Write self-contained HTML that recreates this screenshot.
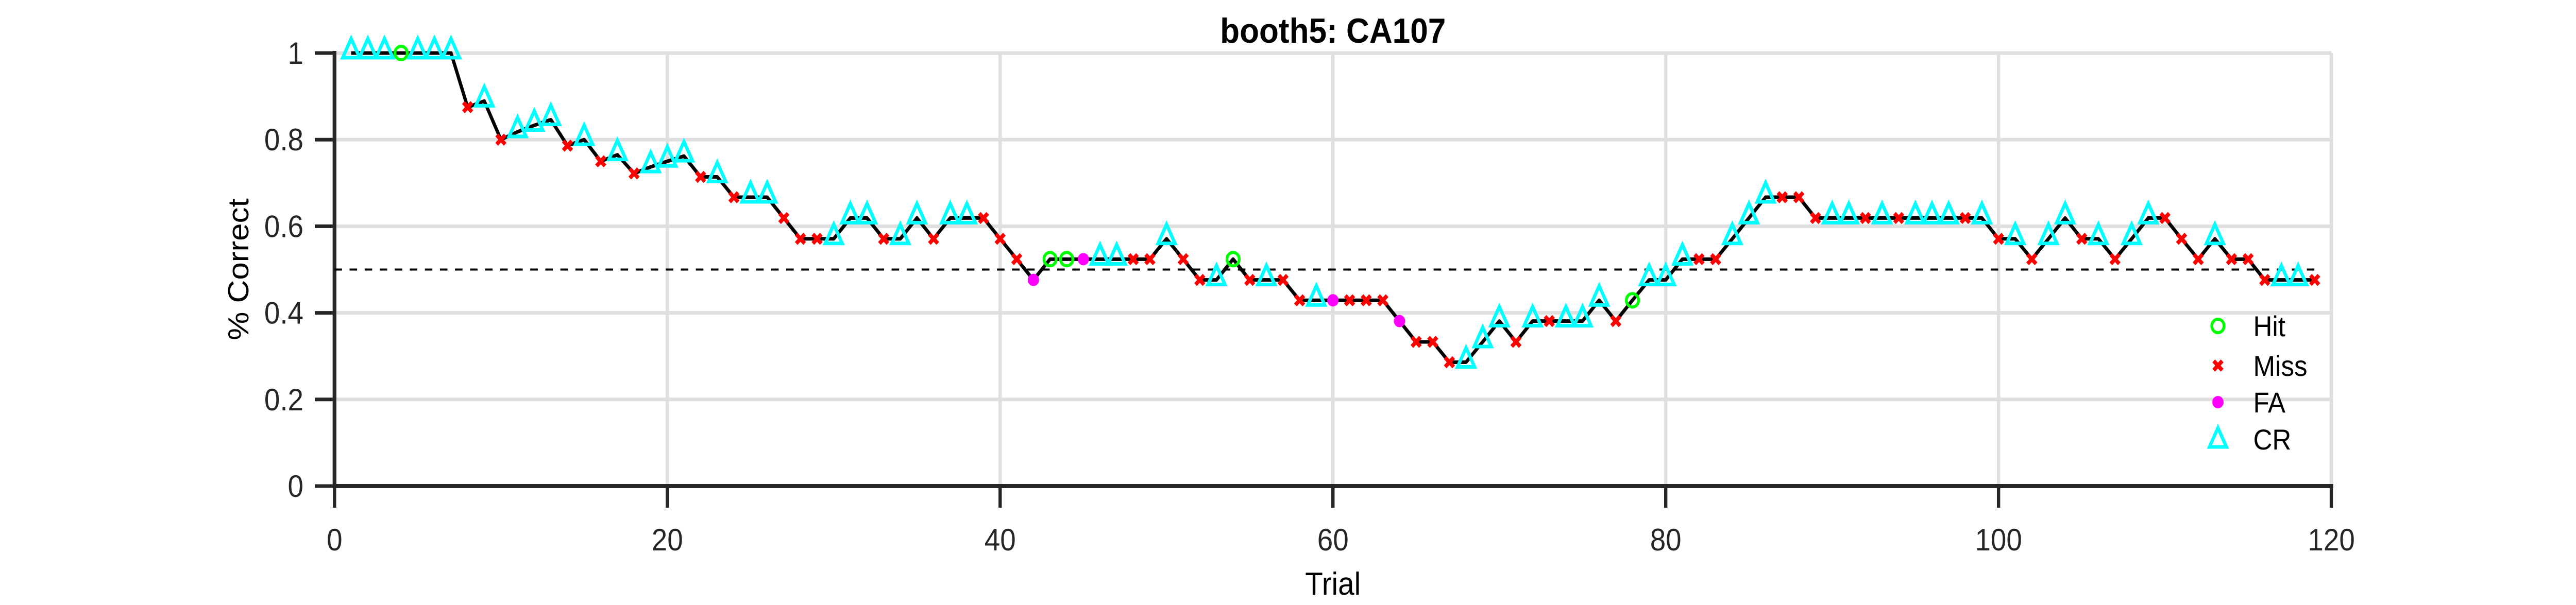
<!DOCTYPE html>
<html><head><meta charset="utf-8"><style>
html,body{margin:0;padding:0;background:#fff;width:100vw;height:100vh;overflow:hidden;}
svg{display:block;width:100vw;height:100vh;font-family:"Liberation Sans",Arial,sans-serif;}
</style></head><body>
<svg id="chart" viewBox="0 0 5475 1175" preserveAspectRatio="none" xmlns="http://www.w3.org/2000/svg">
<rect width="5475" height="1175" fill="#fff"/>
<g id="grid"></g>
<g id="axes"></g>
<g id="series"></g>
<g id="markers"></g>
<text x="2833" y="83" font-size="68" font-weight="bold" text-anchor="middle">booth5: CA107</text>
<text x="2833" y="1155" font-size="62" text-anchor="middle">Trial</text>
<text transform="translate(528,523) rotate(-90)" font-size="62" text-anchor="middle">% Correct</text>
<g id="legend"></g>
</svg>
<script>
const trials = [];
for (let i = 1; i <= 119; i++) trials.push(i);
const pctCorrect = [
1,1,1,1,1,1,1,0.875,0.889,0.8,0.818,0.833,0.846,0.786,0.8,0.75,0.765,0.722,0.737,0.75,0.762,
0.714,0.714,0.667,0.667,0.667,0.619,0.571,0.571,0.571,0.619,0.619,0.571,0.571,0.619,0.571,0.619,0.619,0.619,0.571,0.524,
0.476,0.524,0.524,0.524,0.524,0.524,0.524,0.524,0.571,0.524,0.476,0.476,0.524,0.476,0.476,0.476,0.429,0.429,0.429,0.429,0.429,
0.429,0.381,0.333,0.333,0.286,0.286,0.333,0.381,0.333,0.381,0.381,0.381,0.381,0.429,0.381,0.429,0.476,0.476,0.524,0.524,
0.524,0.571,0.619,0.667,0.667,0.667,0.619,0.619,0.619,0.619,0.619,0.619,0.619,0.619,0.619,0.619,0.619,0.571,0.571,0.524,0.571,
0.619,0.571,0.571,0.524,0.571,0.619,0.619,0.571,0.524,0.571,0.524,0.524,0.476,0.476,0.476,0.476
];
const outcomes = [
'C','C','C','H','C','C','C','M','C','M','C','C','C','M','C','M','C','M','C','C','C',
'M','C','M','C','C','M','M','M','C','C','C','M','C','C','M','C','C','M','M','M',
'F','H','H','F','C','C','M','M','C','M','M','C','H','M','C','M','M','C','F','M','M',
'M','F','M','M','M','C','C','C','M','C','M','C','C','C','M','H','C','C','C','M',
'M','C','C','C','M','M','M','C','C','M','C','M','C','C','C','M','C','M','C','M','C',
'C','M','C','M','C','C','M','M','M','C','M','M','M','C','C','M'
];
const xTicks = [0,20,40,60,80,100,120];
const yTicks = [0,0.2,0.4,0.6,0.8,1];
const yTickLabels = ['0','0.2','0.4','0.6','0.8','1'];
const chanceLevel = 0.5;
const legendLabels = ['Hit','Miss','FA','CR'];

const NS = 'http://www.w3.org/2000/svg';
const X0 = 711, X1 = 4955, Y0 = 944, Y1 = 103;
const xs = v => X0 + (v - 0) / 120 * (X1 - X0);
const ys = v => Y0 - v * (Y0 - Y1);
function mk(tag, attrs, parent) {
  const e = document.createElementNS(NS, tag);
  for (const k in attrs) e.setAttribute(k, attrs[k]);
  parent.appendChild(e);
  return e;
}
const grid = document.getElementById('grid');
const axes = document.getElementById('axes');
xTicks.forEach(t => {
  if (t === 0) return;
  const g = mk('line', {x1: xs(t), x2: xs(t), y1: Y1, y2: Y0, stroke: '#dfdfdf', 'stroke-width': 7}, grid);
  
  
});
yTicks.forEach(t => {
  if (t === 0) return;
  const g = mk('line', {x1: X0, x2: X1, y1: ys(t), y2: ys(t), stroke: '#dfdfdf', 'stroke-width': 7}, grid);
  
  
});
const xa = mk('line', {x1: X0 - 4, x2: X1 + 4, y1: Y0, y2: Y0, stroke: '#262626', 'stroke-width': 8}, axes);


const ya = mk('line', {x1: X0, x2: X0, y1: Y1 - 4, y2: Y0 + 4, stroke: '#262626', 'stroke-width': 8}, axes);


xTicks.forEach(t => {
  mk('line', {x1: xs(t), x2: xs(t), y1: Y0, y2: Y0 + 42, stroke: '#262626', 'stroke-width': 7}, axes);
  const tx = mk('text', {x: xs(t), y: Y0 + 125, 'font-size': 60, 'text-anchor': 'middle', fill: '#262626'}, axes);
  tx.textContent = String(t);
  
  
});
yTicks.forEach((t, i) => {
  mk('line', {x1: X0 - 42, x2: X0, y1: ys(t), y2: ys(t), stroke: '#262626', 'stroke-width': 7}, axes);
  const tx = mk('text', {x: 645, y: ys(t) + 21, 'font-size': 60, 'text-anchor': 'end', fill: '#262626'}, axes);
  tx.textContent = yTickLabels[i];
  
  
});
const series = document.getElementById('series');
const ch = mk('line', {x1: xs(0), x2: xs(119), y1: ys(chanceLevel), y2: ys(chanceLevel), stroke: '#000', 'stroke-width': 4, 'stroke-dasharray': '16 16'}, series);


const pts = trials.map((t, i) => xs(t) + ',' + ys(pctCorrect[i])).join(' ');
const pl = mk('polyline', {points: pts, fill: 'none', stroke: '#000', 'stroke-width': 7, 'stroke-linejoin': 'round'}, series);



function marker(type, cx, cy, parent) {
  let e;
  if (type === 'H') {
    e = mk('ellipse', {cx: cx, cy: cy, rx: 13, ry: 13, fill: 'none', stroke: '#00ff00', 'stroke-width': 6}, parent);
  } else if (type === 'M') {
    e = mk('path', {d: `M${cx-9},${cy-9}L${cx+9},${cy+9}M${cx+9},${cy-9}L${cx-9},${cy+9}`, stroke: '#ff0000', 'stroke-width': 8, fill: 'none'}, parent);
  } else if (type === 'F') {
    e = mk('ellipse', {cx: cx, cy: cy, rx: 12, ry: 12, fill: '#ff00ff'}, parent);
  } else {
    e = mk('path', {d: `M${cx},${cy-28}L${cx+18},${cy+9}L${cx-18},${cy+9}Z`, fill: 'none', stroke: '#00ffff', 'stroke-width': 7, 'stroke-linejoin': 'miter'}, parent);
  }
  return e;
}
const markers = document.getElementById('markers');
trials.forEach((t, i) => {
  const e = marker(outcomes[i], xs(t), ys(pctCorrect[i]), markers);
  
  
});
const legend = document.getElementById('legend');
const legendTypes = ['H','M','F','C'];
const legendY = [633, 710, 781, 853];
legendLabels.forEach((lab, i) => {
  const m = marker(legendTypes[i], 4714, legendY[i] + (legendTypes[i] === 'C' ? 6 : 0), legend);
  
  
  const tx = mk('text', {x: 4789, y: legendY[i] + 20, 'font-size': 56, fill: '#000'}, legend);
  tx.textContent = lab;
  
  
});
</script>
</body></html>
